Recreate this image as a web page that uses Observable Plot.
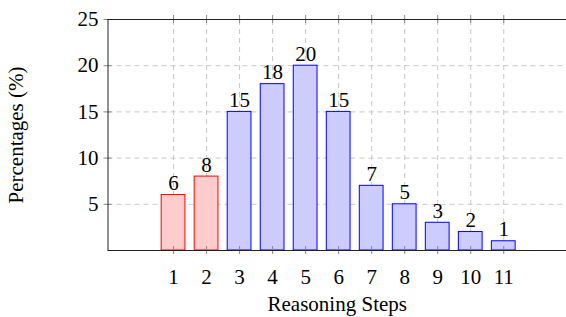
<!DOCTYPE html>
<html><head><meta charset="utf-8">
<script src="https://cdn.jsdelivr.net/npm/d3@7"></script>
<script src="https://cdn.jsdelivr.net/npm/@observablehq/plot@0.6"></script>
<style>body{margin:0;background:#fff}</style>
</head><body><div id="chart"></div>
<script>
const steps = [1, 2, 3, 4, 5, 6, 7, 8, 9, 10, 11];
const percentages = [6, 8, 15, 18, 20, 15, 7, 5, 3, 2, 1];
const groups = ["red", "red", "blue", "blue", "blue", "blue", "blue", "blue", "blue", "blue", "blue"];
const yTicks = [5, 10, 15, 20, 25];
const gridY = [5, 10, 15, 20];
const xTitle = "Reasoning Steps";
const yTitle = "Percentages (%)";

const fills = {red: "#ffcccc", blue: "#ccccff"};
const strokes = {red: "#ff0000", blue: "#0000ff"};
const data = steps.map((s, i) => ({step: s, value: percentages[i], group: groups[i]}));

const xMin = -0.985, xMax = 12.9, yMax = 25;
const gridStyle = {stroke: "#c8c8c8", strokeDasharray: "5,4", strokeWidth: 1};
const tickStyle = {stroke: "#888", strokeWidth: 1};

const chart = Plot.plot({
  width: 566, height: 317,
  marginLeft: 107.5, marginRight: 0, marginTop: 19, marginBottom: 67,
  x: {domain: [xMin, xMax], axis: null},
  y: {domain: [0, yMax], axis: null},
  style: {fontFamily: "'Liberation Serif', serif", fontSize: "21px", background: "#fff", color: "#000"},
  marks: [
    Plot.ruleY(gridY, {...gridStyle}),
    Plot.ruleX(steps, {y1: 0, y2: yMax, ...gridStyle}),
    Plot.rectY(data, {x1: d => d.step - 0.36, x2: d => d.step + 0.36, y: "value",
      fill: d => fills[d.group], stroke: d => strokes[d.group], strokeWidth: 1}),
    Plot.ruleX(steps, {y1: 0, y2: 0, insetTop: -4, insetBottom: -4, ...tickStyle}),
    Plot.ruleX(steps, {y1: yMax, y2: yMax, insetTop: -4, insetBottom: -4, ...tickStyle}),
    Plot.ruleY(yTicks, {x1: xMin, x2: xMin, insetLeft: -4, insetRight: -4, ...tickStyle}),
    Plot.ruleY([0, yMax], {stroke: "#222", strokeWidth: 1}),
    Plot.ruleX([xMin], {y1: 0, y2: yMax, stroke: "#222", strokeWidth: 1}),
    Plot.text(data, {x: "step", y: "value", text: d => String(d.value), lineAnchor: "bottom", dy: -5}),
    Plot.axisX(steps, {tickSize: 0, tickPadding: 19, label: null, tickFormat: d => String(d)}),
    Plot.axisY(yTicks, {tickSize: 0, tickPadding: 9.5, label: null}),
    Plot.text([xTitle], {frameAnchor: "bottom", text: d => d, lineAnchor: "middle", textAnchor: "middle", dy: 54}),
    Plot.text([yTitle], {frameAnchor: "left", text: d => d, lineAnchor: "middle", textAnchor: "middle", rotate: -90, dx: -92})
  ]
});
document.getElementById("chart").appendChild(chart);
</script>
</body></html>
